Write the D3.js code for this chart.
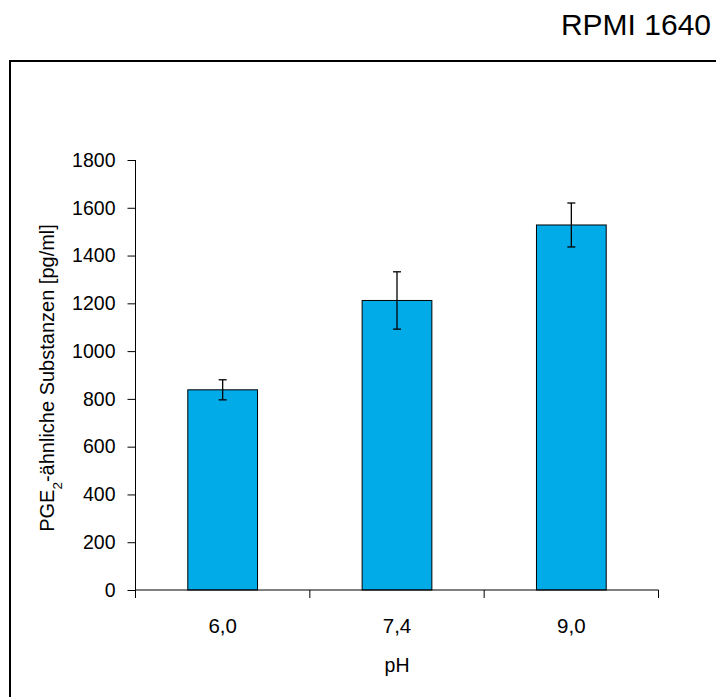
<!DOCTYPE html>
<html><head><meta charset="utf-8">
<script src="https://cdn.jsdelivr.net/npm/d3@7"></script>
<style>body{margin:0;background:#fff}svg{display:block}text{font-family:"Liberation Sans",Arial,sans-serif;fill:#000}</style>
</head><body>
<script>
const categories = ["6,0", "7,4", "9,0"];
const values = [838, 1212, 1528];
const errors = [42, 120, 92];
const yTicks = [0, 200, 400, 600, 800, 1000, 1200, 1400, 1600, 1800];
const title = "RPMI 1640";
const xLabel = "pH";

const W = 716, H = 697;
const svg = d3.select("body").append("svg").attr("width", W).attr("height", H);

// outer frame (extends beyond the window right/bottom)
svg.append("rect").attr("x", 10).attr("y", 61).attr("width", 720).attr("height", 660)
  .attr("fill", "none").attr("stroke", "#000").attr("stroke-width", 2);

svg.append("text").attr("x", 711).attr("y", 35).attr("text-anchor", "end")
  .style("font-size", "30px").text(title);

const x0 = 135.5, x1 = 658.5, yTop = 160, yBot = 590;
const x = d3.scaleBand().domain(categories).range([x0, x1]).paddingInner(0.6).paddingOuter(0.3);
const y = d3.scaleLinear().domain([0, 1800]).range([yBot, yTop]);

// bars
svg.selectAll("rect.bar").data(categories).enter().append("rect")
  .attr("class", "bar")
  .attr("x", d => x(d))
  .attr("width", x.bandwidth())
  .attr("y", (d, i) => y(values[i]))
  .attr("height", (d, i) => y(0) - y(values[i]))
  .attr("fill", "#00ABE7").attr("stroke", "#000").attr("stroke-width", 1);

// error bars
const eg = svg.append("g").attr("stroke", "#000").attr("stroke-width", 1.3);
categories.forEach((c, i) => {
  const cx = x(c) + x.bandwidth() / 2;
  const hi = y(values[i] + errors[i]), lo = y(values[i] - errors[i]);
  eg.append("line").attr("x1", cx).attr("x2", cx).attr("y1", hi).attr("y2", lo);
  eg.append("line").attr("x1", cx - 4).attr("x2", cx + 4).attr("y1", hi).attr("y2", hi);
  eg.append("line").attr("x1", cx - 4).attr("x2", cx + 4).attr("y1", lo).attr("y2", lo);
});

// y axis
const yAxis = svg.append("g").attr("transform", `translate(${x0},0)`)
  .call(d3.axisLeft(y).tickValues(yTicks).tickFormat(d3.format("d")).tickSize(8).tickPadding(12));
yAxis.select(".domain").attr("d", `M-0,${yTop}V${yBot}`);
yAxis.selectAll("text").style("font-size", "19.5px").style("font-family", "Liberation Sans, Arial, sans-serif");

// x axis: ticks at category boundaries
const xs = d3.scaleLinear().domain([0, categories.length]).range([x0, x1]);
const xAxisG = svg.append("g").attr("transform", `translate(0,${yBot})`);
xAxisG.append("line").attr("x1", x0).attr("x2", x1).attr("stroke", "#000");
d3.range(categories.length + 1).forEach(k => {
  xAxisG.append("line").attr("x1", xs(k)).attr("x2", xs(k)).attr("y1", 0).attr("y2", 8).attr("stroke", "#000");
});
categories.forEach((c, i) => {
  xAxisG.append("text").attr("x", (xs(i) + xs(i + 1)) / 2).attr("y", 43)
    .attr("text-anchor", "middle").style("font-size", "20.5px").text(c);
});
svg.append("text").attr("x", (x0 + x1) / 2).attr("y", 672).attr("text-anchor", "middle")
  .style("font-size", "19.5px").text(xLabel);

// y label with subscript
const yl = svg.append("text").attr("transform", `translate(54,378) rotate(-90)`)
  .attr("text-anchor", "middle").style("font-size", "20px");
yl.append("tspan").text("PGE");
yl.append("tspan").attr("baseline-shift", "sub").style("font-size", "13.5px").text("2");
yl.append("tspan").text("-ähnliche Substanzen [pg/ml]");
</script>
</body></html>
